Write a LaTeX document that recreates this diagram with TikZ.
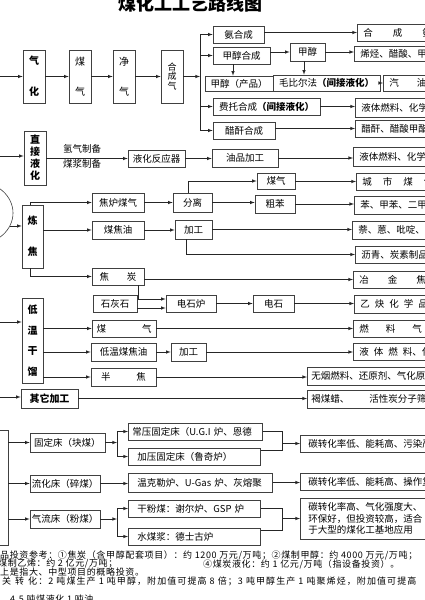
\documentclass[tikz,border=0pt]{standalone}
\usepackage{fontspec}
\setmainfont{Noto Sans CJK SC}
\usetikzlibrary{arrows,shapes.geometric}

\begin{document}
\begin{tikzpicture}[x=1pt,y=-1pt,>=latex]
\tikzstyle{every node}=[inner sep=0pt, font=\fontsize{9.5}{11}\selectfont]
\tikzstyle{blk}=[draw=black!75, line width=.6pt, rectangle, align=center]
\tikzstyle{vbox}=[blk, font=\fontsize{10}{31}\selectfont\bfseries]
\tikzstyle{lbox}=[blk, anchor=west, inner xsep=9pt, align=left]
\tikzstyle{outbox}=[blk, anchor=west, minimum height=17, text width=150, inner xsep=6pt, align=left]
\tikzstyle{link}=[line width=.6pt, black!85]
\tikzstyle{note}=[anchor=west, font=\fontsize{9}{9}\selectfont\addfontfeature{LetterSpace=7}]
\useasboundingbox (0,0) rectangle (425,600);
\clip (0,0) rectangle (425,600);

\node (title) at (190,4) {\fontsize{18}{18}\selectfont\bfseries 煤化工工艺路线图};

% gasification
\node (gasf) [vbox, minimum width=22, minimum height=53] at (34,76.5) {气\\化};
\node (rawgas) [blk, font=\fontsize{10}{30}\selectfont, minimum width=22, minimum height=53] at (80,76.5) {煤\\气};
\node (cleangas) [blk, font=\fontsize{10}{30}\selectfont, minimum width=22, minimum height=53] at (124,76.5) {净\\气};
\node (syngas) [blk, font=\fontsize{9}{9.5}\selectfont, minimum width=22, minimum height=53] at (172,76.5) {合\\成\\气};
\coordinate (bus) at (200,0);
\coordinate (in1) at (-5,76.5);
\node (nh3) [blk, minimum width=51, minimum height=17] at (238.5,34.5) {氨合成};
\node (meohsyn) [blk, minimum width=57, minimum height=17] at (241.5,55.5) {甲醇合成};
\node (meoh) [blk, minimum width=35, minimum height=18] at (307.5,52) {甲醇};
\node (meohprod) [blk, minimum width=68, minimum height=15] at (239,83.5) {甲醇（产品）};
\node (mtg) [blk, minimum width=107, minimum height=16] at (326.5,83) {毛比尔法\textbf{（间接液化）}};
\node (ft) [blk, minimum width=107, minimum height=17] at (266.5,106.5) {费托合成\textbf{（间接液化）}};
\node (acan) [blk, minimum width=62, minimum height=17] at (244,130.5) {醋酐合成};

% products
\node (p_nh3) [outbox] at (357,32.5) {合\hspace{20pt}成\hspace{20pt}氨};
\node (p_olef) [outbox, minimum height=15] at (354,53.5) {烯烃、醋酸、甲醛};
\node (p_gasoline) [outbox, minimum height=16] at (383,83) {汽\hspace{18pt}油};
\node (p_ft) [outbox, minimum height=19] at (355,107.5) {液体燃料、化学品};
\node (p_acan) [outbox] at (355,128.5) {醋酐、醋酸甲酯};
\node (p_oil) [outbox, minimum height=19] at (353,156.5) {液体燃料、化学品};
\node (p_city) [outbox] at (356,181.5) {城\hspace{11pt}市\hspace{11pt}煤\hspace{11pt}气};
\node (p_benz) [outbox, minimum height=18] at (354,205) {苯、甲苯、二甲苯};
\node (p_naph) [outbox, minimum height=18] at (352,230) {萘、蒽、吡啶、咔唑};
\node (p_pitch) [outbox] at (355,254.5) {沥青、炭素制品};
\node (p_met) [outbox] at (353,279.5) {冶\hspace{19pt}金\hspace{19pt}焦};
\node (p_acet) [outbox, minimum height=18] at (354,304) {乙\hspace{5pt}炔\hspace{5pt}化\hspace{5pt}学\hspace{5pt}品};
\node (p_fuel) [outbox] at (353,328.5) {燃\hspace{17pt}料\hspace{17pt}气};
\node (p_liq) [outbox] at (353,351.5) {液\hspace{5pt}体\hspace{5pt}燃\hspace{5pt}料、化\hspace{5pt}学\hspace{5pt}品};
\node (p_smoke) [outbox, minimum height=18, inner xsep=4pt] at (307,376) {无烟燃料、还原剂、气化原料};
\node (p_wax) [outbox, minimum height=18, inner xsep=4pt] at (307,399) {褐煤蜡、\hspace{20pt}活性炭分子筛};
\node (p_fix) [outbox, inner xsep=8pt] at (300,443.5) {碳转化率低、能耗高、污染严重};
\node (p_flu) [outbox, inner xsep=8pt] at (300,481.5) {碳转化率低、能耗高、操作复杂};
\node (p_ent) [outbox, minimum height=41, inner xsep=8pt, font=\fontsize{9.5}{11.5}\selectfont] at (300,518.5) {碳转化率高、气化强度大、\\环保好，但投资较高，适合\\于大型的煤化工基地应用};

% direct liquefaction
\coordinate (in2) at (-5,156);
\node (dcl) [vbox, font=\fontsize{10}{12}\selectfont\bfseries, minimum width=22, minimum height=54] at (35,158) {直\\接\\液\\化};
\node (h2lbl) at (82,149) {氢气制备};
\node (slurrylbl) at (82,164) {煤浆制备};
\node (reactor) [blk, minimum width=57, minimum height=17] at (156.5,158.5) {液化反应器};
\node (oilproc) [blk, minimum width=66, minimum height=18] at (245,158) {油品加工};

% coking
\node (coal) [draw=black!75, line width=.6pt, ellipse, minimum width=70, minimum height=62] at (-22,213) {};
\node (coke) [vbox, minimum width=21, minimum height=63] at (32.5,236.5) {炼\\焦};
\node (cog) [blk, minimum width=52, minimum height=19] at (118,202.5) {焦炉煤气};
\node (sep) [blk, minimum width=39, minimum height=19] at (192.5,202.5) {分离};
\node (citygas) [blk, minimum width=38, minimum height=16] at (276,181) {煤气};
\node (crudeb) [blk, minimum width=40, minimum height=18] at (275,204) {粗苯};
\node (tar) [blk, minimum width=52, minimum height=18] at (118,230) {煤焦油};
\node (tarproc) [blk, minimum width=37, minimum height=19] at (193.5,229.5) {加工};
\node (cokeprod) [blk, minimum width=52, minimum height=17] at (118,276.5) {焦\hspace{18pt}炭};
\node (lime) [blk, minimum width=44, minimum height=17] at (115,303.5) {石灰石};
\node (furnace) [blk, minimum width=50, minimum height=17] at (191,303.5) {电石炉};
\node (carbide) [blk, minimum width=41, minimum height=17] at (273.5,303.5) {电石};

% low temperature carbonization
\coordinate (in3) at (-5,322);
\coordinate (in4) at (-5,397);
\node (ltc) [vbox, font=\fontsize{10}{20.5}\selectfont\bfseries, minimum width=21, minimum height=85] at (32.5,340.5) {低\\温\\干\\馏};
\node (ltgas) [blk, minimum width=64, minimum height=17] at (124,328.5) {煤\hspace{36pt}气};
\node (lttar) [blk, minimum width=65, minimum height=18] at (123.5,352) {低温煤焦油};
\node (ltproc) [blk, minimum width=35, minimum height=18] at (188.5,352) {加工};
\node (semicoke) [blk, minimum width=65, minimum height=18] at (123.5,377) {半\hspace{26pt}焦};
\node (other) [blk, font=\fontsize{10}{10}\selectfont\bfseries, minimum width=57, minimum height=19] at (49.5,398.5) {其它加工};

% gasifier types
\coordinate (b1) at (117,0);
\coordinate (b2) at (282,0);
\node (gasify) [blk, minimum width=50, minimum height=115] at (-17,487.5) {};
\node (fixed) [blk, minimum width=75, minimum height=19] at (67.5,442.5) {固定床（块煤）};
\node (fluid) [blk, minimum width=70, minimum height=17] at (65,483.5) {流化床（碎煤）};
\node (entr) [blk, minimum width=70, minimum height=18] at (65,519) {气流床（粉煤）};
\node (atm) [lbox, text width=126, inner xsep=4pt, minimum height=17] at (128,431.5) {\mbox{常压固定床（U.G.I 炉、恩德}};
\node (pres) [lbox, text width=114, minimum height=17] at (128,456.5) {加压固定床（鲁奇炉）};
\node (winkler) [lbox, text width=126, minimum height=19] at (128,482.5) {温克勒炉、U-Gas 炉、灰熔聚};
\node (dry) [lbox, text width=114, minimum height=17] at (128,508.5) {干粉煤：谢尔炉、GSP 炉};
\node (slurry) [lbox, text width=114, minimum height=17] at (128,536.5) {水煤浆：德士古炉};

% notes
\node (n1) [note] at (0,555) {品投资参考：①焦炭（含甲醇配套项目）：约 1200 万元/万吨；②煤制甲醇：约 4000 万元/万吨；};
\node (n2) [note] at (-2,564) {煤制乙烯：约 2 亿元/万吨；};
\node (n3) [note] at (203,564) {④煤炭液化：约 1 亿元/万吨（指设备投资）。};
\node (n4) [note] at (0,572.5) {上是指大、中型项目的概略投资。};
\node (n5) [note, font=\fontsize{9}{9}\selectfont\addfontfeature{LetterSpace=12}] at (2,581.5) {关\hspace{4pt}转\hspace{4pt}化：2 吨煤生产 1 吨甲醇，附加值可提高 8 倍；3 吨甲醇生产 1 吨聚烯烃，附加值可提高};
\node (n6) [note] at (10,599) {4.5 吨煤液化 1 吨油};

% connectors
\draw[link,->] (in1) -- (gasf.west);
\draw[link,->] (gasf.east) -- (rawgas.west);
\draw[link,->] (rawgas.east) -- (cleangas.west);
\draw[link,->] (cleangas.east) -- (syngas.west);
\draw[link,->] (syngas.east) -- (syngas.east -| bus);
\draw[link] (nh3.west -| bus) -- (acan.west -| bus);
\draw[link,->] (nh3.west -| bus) -- (nh3.west);
\draw[link,->] (meohsyn.west -| bus) -- (meohsyn.west);
\draw[link,->] (ft.west -| bus) -- (ft.west);
\draw[link,->] (acan.west -| bus) -- (acan.west);
\draw[link,->] (nh3.east |- p_nh3.west) -- (p_nh3.west);
\draw[link,->] (meohsyn.east |- meoh.west) -- (meoh.west);
\draw[link,->] (meoh.east) -- (meoh.east -| p_olef.west);
\draw[link,->] ([xshift=-8.5pt]meohsyn.south) -- ([xshift=-8.5pt]meohsyn.south |- meohprod.north);
\draw[link,->] ([xshift=-3.5pt]meoh.south) -- ([xshift=-3.5pt]meoh.south |- mtg.north);
\draw[link,->] (mtg.east) -- (mtg.east -| p_gasoline.west);
\draw[link,->] (ft.east) -- (ft.east -| p_ft.west);
\draw[link,->] (acan.east |- p_acan.west) -- (p_acan.west);

\draw[link,->] (in2) -- (in2 -| dcl.west);
\draw[link,->] (dcl.east |- reactor.west) -- (reactor.west);
\draw[link,->] (reactor.east) -- (reactor.east -| oilproc.west);
\draw[link,->] (oilproc.east) -- (oilproc.east -| p_oil.west);

\draw[link,->] (coal.-22) -- (coal.-22 -| coke.west);
\draw[link,->] ([xshift=-2.5pt]coke.north) |- (cog.west);
\draw[link,->] (coke.east |- tar.west) -- (tar.west);
\draw[link,->] ([xshift=-2.5pt]coke.south) |- (cokeprod.west);
\draw[link,->] (cog.east) -- (sep.west);
\draw[link,->] ([xshift=-4.5pt]sep.north) |- (citygas.west);
\draw[link,->] (sep.east) -- (sep.east -| crudeb.west);
\draw[link,->] (citygas.east |- p_city.west) -- (p_city.west);
\draw[link,->] (crudeb.east) -- (crudeb.east -| p_benz.west);
\draw[link,->] (tar.east) -- (tar.east -| tarproc.west);
\draw[link,->] (tarproc.east) -- (tarproc.east -| p_naph.west);
\draw[link,->] ([xshift=-7.5pt]tarproc.south) |- (p_pitch.west);
\draw[link,->] (cokeprod.east |- p_met.west) -- (p_met.west);
\draw[link,->] ([xshift=20pt]cokeprod.south) |- ([yshift=4.5pt]furnace.west);
\draw[link,->] ([yshift=-4.5pt]furnace.west -| lime.east) -- ([yshift=-4.5pt]furnace.west);
\draw[link,->] (furnace.east) -- (furnace.east -| carbide.west);
\draw[link,->] (carbide.east) -- (carbide.east -| p_acet.west);

\draw[link,->] (in3) -- (in3 -| ltc.west);
\draw[link,->] (ltc.east |- ltgas.west) -- (ltgas.west);
\draw[link,->] (ltc.east |- lttar.west) -- (lttar.west);
\draw[link,->] (ltc.east |- semicoke.west) -- (semicoke.west);
\draw[link,->] (ltgas.east) -- (ltgas.east -| p_fuel.west);
\draw[link,->] (lttar.east) -- (ltproc.west);
\draw[link,->] (ltproc.east) -- (ltproc.east -| p_liq.west);
\draw[link,->] (semicoke.east) -- (semicoke.east -| p_smoke.west);
\draw[link,->] (in4) -- (in4 -| other.west);
\draw[link,->] (other.east) -- (other.east -| p_wax.west);

\draw[link,->] (gasify.east |- fixed.west) -- (fixed.west);
\draw[link,->] (gasify.east |- fluid.west) -- (fluid.west);
\draw[link,->] (gasify.east |- entr.west) -- (entr.west);
\draw[link,->] (fixed.east) -- (fixed.east -| b1);
\draw[link] (atm.west -| b1) -- (pres.west -| b1);
\draw[link,->] (atm.west -| b1) -- (atm.west);
\draw[link,->] (pres.west -| b1) -- (pres.west);
\draw[link] (atm.east) -- (atm.east -| b2) -- ([yshift=-3pt]pres.north east -| b2) -- ([yshift=-3pt]pres.north east);
\draw[link,->] (p_fix.west -| b2) -- (p_fix.west);
\draw[link,->] (fluid.east) -- (fluid.east -| winkler.west);
\draw[link,->] (winkler.east) -- (winkler.east -| p_flu.west);
\draw[link,->] (entr.east) -- (entr.east -| b1);
\draw[link] (dry.west -| b1) -- (slurry.west -| b1);
\draw[link,->] (dry.west -| b1) -- (dry.west);
\draw[link,->] (slurry.west -| b1) -- (slurry.west);
\draw[link] (dry.east) -- (dry.east -| b2) -- ([yshift=-3pt]slurry.north east -| b2) -- ([yshift=-3pt]slurry.north east);
\draw[link,->] (p_ent.west -| b2) -- (p_ent.west);
\end{tikzpicture}
\end{document}
